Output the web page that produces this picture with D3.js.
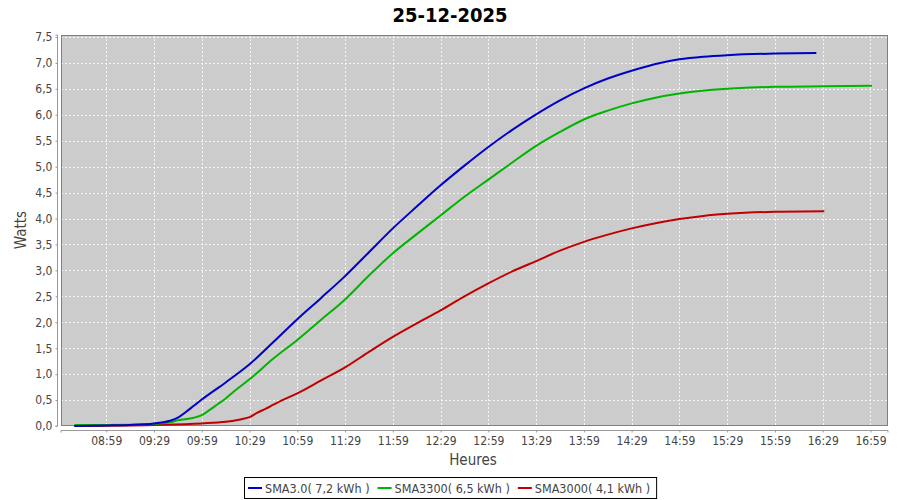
<!DOCTYPE html>
<html>
<head>
<meta charset="utf-8">
<script src="https://cdn.jsdelivr.net/npm/d3@7"></script>
<style>
  body { margin: 0; background: #fff; }
  text { font-family: "DejaVu Sans Condensed", "DejaVu Sans", sans-serif; }
</style>
</head>
<body>
<svg id="chart" width="900" height="500"></svg>
<script>
// chart data (time "HH:MM", value in Watts)
var title = "25-12-2025";
var seriesNames = ["SMA3.0( 7,2 kWh )", "SMA3300( 6,5 kWh )", "SMA3000( 4,1 kWh )"];
var seriesColors = ["#0000c8", "#00b400", "#c00000"];

var blueData = [
  ["08:39", 0.0], ["08:59", 0.01], ["09:14", 0.02], ["09:29", 0.05], ["09:39", 0.1],
  ["09:44", 0.16], ["09:49", 0.27], ["09:54", 0.39], ["09:59", 0.51], ["10:14", 0.84],
  ["10:29", 1.19], ["10:44", 1.62], ["10:59", 2.06], ["11:14", 2.47], ["11:29", 2.89],
  ["11:44", 3.35], ["11:59", 3.81], ["12:14", 4.23], ["12:29", 4.64], ["12:44", 5.02],
  ["12:59", 5.38], ["13:14", 5.71], ["13:29", 6.01], ["13:44", 6.28], ["13:59", 6.51],
  ["14:14", 6.70], ["14:29", 6.85], ["14:44", 6.98], ["14:59", 7.07], ["15:14", 7.12],
  ["15:29", 7.15], ["15:59", 7.18], ["16:25", 7.19]
];
var greenData = [
  ["08:39", 0.02], ["08:59", 0.02], ["09:29", 0.04], ["09:39", 0.07], ["09:44", 0.11],
  ["09:54", 0.16], ["09:59", 0.21], ["10:04", 0.31], ["10:09", 0.42], ["10:14", 0.53],
  ["10:19", 0.66], ["10:29", 0.9], ["10:44", 1.3], ["10:59", 1.66], ["11:14", 2.05],
  ["11:29", 2.44], ["11:44", 2.9], ["11:59", 3.33], ["12:14", 3.7], ["12:29", 4.06],
  ["12:44", 4.42], ["12:59", 4.75], ["13:14", 5.08], ["13:29", 5.4], ["13:44", 5.67],
  ["13:59", 5.91], ["14:14", 6.08], ["14:29", 6.22], ["14:44", 6.33], ["14:59", 6.41],
  ["15:29", 6.5], ["15:59", 6.54], ["16:29", 6.55], ["17:00", 6.56]
];
var redData = [
  ["08:39", 0.0], ["09:29", 0.02], ["09:59", 0.05], ["10:14", 0.08], ["10:19", 0.1],
  ["10:24", 0.13], ["10:29", 0.17], ["10:34", 0.26], ["10:39", 0.33], ["10:44", 0.41],
  ["10:49", 0.49], ["10:59", 0.63], ["11:14", 0.88], ["11:29", 1.13], ["11:44", 1.43],
  ["11:59", 1.72], ["12:14", 1.98], ["12:29", 2.23], ["12:44", 2.5], ["12:59", 2.75],
  ["13:14", 2.98], ["13:29", 3.18], ["13:44", 3.38], ["13:59", 3.55], ["14:14", 3.69],
  ["14:29", 3.81], ["14:44", 3.91], ["14:59", 3.99], ["15:14", 4.05], ["15:29", 4.09],
  ["15:59", 4.13], ["16:30", 4.14]
];

var xTickLabels = ["08:59", "09:29", "09:59", "10:29", "10:59", "11:29", "11:59", "12:29",
  "12:59", "13:29", "13:59", "14:29", "14:59", "15:29", "15:59", "16:29", "16:59"];
var yTicks = [0, 0.5, 1, 1.5, 2, 2.5, 3, 3.5, 4, 4.5, 5, 5.5, 6, 6.5, 7, 7.5];

// layout
var plot = { left: 61, right: 888, top: 35, bottom: 426 };
var parseTime = d3.timeParse("%Y-%m-%d %H:%M");
var t = function(hm) { return parseTime("2025-12-25 " + hm); };

var svg = d3.select("#chart");

// 08:59 lands near x=107 and 16:59 near x=871
var x = d3.scaleTime()
  .domain([t("08:30").getTime() + 0.6 * 60000, t("17:10")])
  .range([plot.left, plot.right]);

var y = d3.scaleLinear().domain([0, 7.5]).range([plot.bottom, 37]);

// plot background
svg.append("rect")
  .attr("x", plot.left).attr("y", plot.top)
  .attr("width", plot.right - plot.left).attr("height", plot.bottom - plot.top)
  .attr("fill", "#cccccc");

// grid lines
var grid = svg.append("g").attr("stroke", "#ffffff").attr("stroke-width", 0.8)
  .attr("stroke-dasharray", "2,2");
grid.selectAll("line.v").data(xTickLabels).enter().append("line")
  .attr("x1", function(d) { return Math.round(x(t(d))) + 0.5; })
  .attr("x2", function(d) { return Math.round(x(t(d))) + 0.5; })
  .attr("y1", plot.top).attr("y2", plot.bottom);
grid.selectAll("line.h").data(yTicks).enter().append("line")
  .attr("y1", function(d) { return Math.round(y(d)) + 0.5; })
  .attr("y2", function(d) { return Math.round(y(d)) + 0.5; })
  .attr("x1", plot.left).attr("x2", plot.right);

// plot border
svg.append("rect")
  .attr("x", plot.left + 0.5).attr("y", plot.top + 0.5)
  .attr("width", plot.right - plot.left - 1).attr("height", plot.bottom - plot.top - 1)
  .attr("fill", "none").attr("stroke", "#808080");

// axes
var commaFmt = function(d) { return d3.format(".1f")(d).replace(".", ","); };

var yAxis = svg.append("g")
  .attr("transform", "translate(57.5,0)")
  .call(d3.axisLeft(y).tickValues(yTicks).tickSize(2).tickPadding(3).tickFormat(commaFmt));
yAxis.select(".domain").attr("d", "M-2," + plot.top + "H0V" + plot.bottom + "H-2").attr("stroke", "#999999");

var xAxis = svg.append("g")
  .attr("transform", "translate(0,430.5)")
  .call(d3.axisBottom(x).tickValues(xTickLabels.map(t)).tickSize(2).tickPadding(4)
    .tickFormat(d3.timeFormat("%H:%M")));
xAxis.select(".domain").attr("d", "M" + plot.left + ",2V0H" + plot.right + "V2").attr("stroke", "#999999");

svg.selectAll(".tick line").attr("stroke", "#999999");
svg.selectAll(".tick text")
  .attr("fill", "#444444")
  .style("font-size", "12px")
  .style("font-family", "'DejaVu Sans Condensed', 'DejaVu Sans', sans-serif");

// lines (series 0 drawn last, on top)
var line = d3.line()
  .curve(d3.curveMonotoneX)
  .x(function(d) { return x(t(d[0])); })
  .y(function(d) { return y(d[1]); });

var allSeries = [blueData, greenData, redData];
svg.append("g").selectAll("path.curve")
  .data(allSeries.slice().reverse())
  .enter().append("path")
  .attr("class", "curve")
  .attr("d", line)
  .attr("fill", "none")
  .attr("stroke", function(d, i) { return seriesColors[2 - i]; })
  .attr("stroke-width", 2)
  .attr("stroke-linejoin", "round");

// title and axis labels
svg.append("text")
  .attr("x", 450).attr("y", 22)
  .attr("text-anchor", "middle")
  .style("font-size", "20px").style("font-weight", "bold")
  .attr("fill", "#000")
  .text(title);

svg.append("text")
  .attr("x", 473).attr("y", 465)
  .attr("text-anchor", "middle")
  .style("font-size", "15px")
  .attr("fill", "#444444")
  .text("Heures");

svg.append("text")
  .attr("transform", "translate(26,230) rotate(-90)")
  .attr("text-anchor", "middle")
  .style("font-size", "15px")
  .attr("fill", "#444444")
  .text("Watts");

// legend
var legend = svg.append("g");
var items = legend.selectAll("g.item").data(seriesNames).enter().append("g").attr("class", "item");
items.append("line")
  .attr("x1", 0).attr("x2", 14).attr("y1", 0).attr("y2", 0)
  .attr("stroke", function(d, i) { return seriesColors[i]; })
  .attr("stroke-width", 2);
items.append("text")
  .attr("x", 17).attr("y", 4.5)
  .style("font-size", "12.5px")
  .attr("fill", "#444444")
  .text(function(d) { return d; });

var gap = 8;
var offs = 0;
items.each(function() {
  var w = this.getBBox().width;
  d3.select(this).attr("transform", "translate(" + offs + ",0)");
  offs += w + gap;
});
var legendW = offs - gap + 10;
var lx = Math.round(450 - legendW / 2);
legend.attr("transform", "translate(" + (lx + 4) + ",488)");
svg.insert("rect", "g")
  .attr("x", lx + 0.5).attr("y", 477.5)
  .attr("width", legendW).attr("height", 21)
  .attr("fill", "#fff").attr("stroke", "#000");
</script>
</body>
</html>
